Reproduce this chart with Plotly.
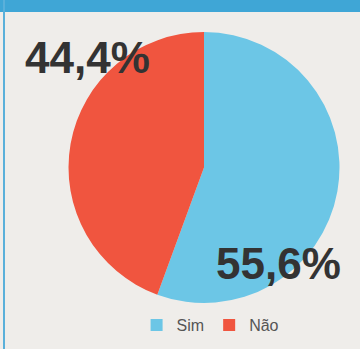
import plotly.graph_objects as go

labels = ["Sim", "Não"]
values = [55.6, 44.4]
text_labels = ["55,6%", "44,4%"]
colors = ["#6CC6E6", "#F0553F"]

W, H = 360, 349
FONT_BIG = "Liberation Sans Narrow, Arial Narrow, Liberation Sans, Arial"

fig = go.Figure()
fig.add_trace(go.Pie(
    labels=labels, values=values, sort=False, direction="clockwise", rotation=0,
    marker=dict(colors=colors, line=dict(width=0)),
    textinfo="none", hoverinfo="label+percent",
    domain=dict(x=[68/W, 340/W], y=[(H-303)/H, (H-32)/H]),
))

fig.add_annotation(x=87/W, y=(H-57)/H, xref="paper", yref="paper", text="<b>" + text_labels[1] + "</b>",
                   showarrow=False, font=dict(family=FONT_BIG, size=44, color="#333333"),
                   xanchor="center", yanchor="middle")
fig.add_annotation(x=278/W, y=(H-263)/H, xref="paper", yref="paper", text="<b>" + text_labels[0] + "</b>",
                   showarrow=False, font=dict(family=FONT_BIG, size=44, color="#333333"),
                   xanchor="center", yanchor="middle")

# frame
fig.add_shape(type="rect", xref="paper", yref="paper", x0=0, x1=1, y0=(H-12)/H, y1=1,
              fillcolor="#3FA6D6", line=dict(width=0), layer="above")
fig.add_shape(type="line", xref="paper", yref="paper", x0=4/W, x1=4/W, y0=0, y1=1,
              line=dict(color="#5AB0DA", width=2))

fig.update_layout(
    width=W, height=H, margin=dict(l=0, r=0, t=0, b=0),
    paper_bgcolor="#EFEDEA", plot_bgcolor="#EFEDEA",
    showlegend=True,
    legend=dict(orientation="h", x=0.585, xanchor="center", y=(H-325)/H, yanchor="middle",
                font=dict(family="Liberation Sans, Arial", size=16, color="#555555"),
                bgcolor="rgba(0,0,0,0)", itemwidth=30, traceorder="normal"),
)

fig.write_html("out.html")
